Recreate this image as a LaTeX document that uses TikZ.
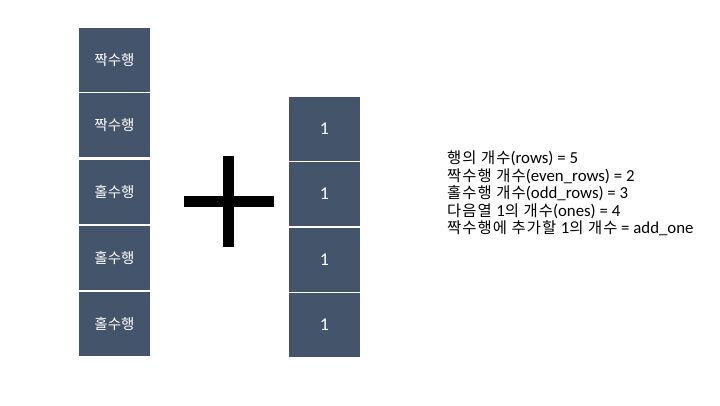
\documentclass[tikz,border=0pt]{standalone}
\usepackage{fontspec}
\setmainfont{Carlito}
\newfontfamily\kr{Noto Sans CJK KR}
\newfontfamily\krw{Noto Sans CJK KR}[LetterSpace=7]
\definecolor{boxblue}{HTML}{44546A}
\newcommand{\K}[1]{{\krw\fontsize{15.4}{17.5}\selectfont #1}}
\begin{document}
\begin{tikzpicture}[x=1pt,y=-1pt,
  cell/.style={fill=boxblue,draw=none,minimum width=71pt,minimum height=64pt,inner sep=0pt,
    text=white,font=\kr\fontsize{14.5}{16}\selectfont},
  onecell/.style={cell,font=\fontsize{18}{19}\selectfont},
  plusbar/.style={fill=black,draw=none,inner sep=0pt},
  info/.style={anchor=north west,align=left,inner sep=0pt,font=\fontsize{16.8}{17.5}\selectfont}]
\useasboundingbox (0,0) rectangle (720,405);
% left column
\node[cell] (l1) at (114.5,60) {짝수행};
\node[cell] (l2) at (114.5,125) {짝수행};
\node[cell] (l3) at (114.5,192) {홀수행};
\node[cell] (l4) at (114.5,257.5) {홀수행};
\node[cell] (l5) at (114.5,324) {홀수행};
% right column
\node[onecell] (r1) at (324.5,128.5) {1};
\node[onecell] (r2) at (324.5,193.5) {1};
\node[onecell] (r3) at (324.5,259.5) {1};
\node[onecell] (r4) at (324.5,325) {1};
% plus sign
\node[plusbar,minimum width=11pt,minimum height=91pt] (pv) at (228.5,201.5) {};
\node[plusbar,minimum width=90pt,minimum height=11pt] (ph) at (229,201.5) {};
% info text
\node[info] (txt) at (447,151) {\K{행의 개수}(rows) = 5\\
\K{짝수행 개수}(even\_rows) = 2\\
\K{홀수행 개수}(odd\_rows) = 3\\
\K{다음열 }1\K{의 개수}(ones) = 4\\
\K{짝수행에 추가할 }1\K{의 개수} = add\_one};
\end{tikzpicture}
\end{document}
